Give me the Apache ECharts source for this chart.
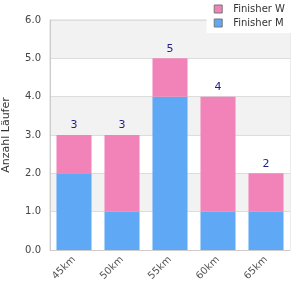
<!DOCTYPE html>
<html><head><meta charset="utf-8">
<script src="https://cdn.jsdelivr.net/npm/echarts@6/dist/echarts.min.js"></script>
<style>html,body{margin:0;padding:0;background:#fff}#c{width:300px;height:300px}</style>
</head><body><div id="c"></div>
<script>
var categories = ['45km', '50km', '55km', '60km', '65km'];
var finisherM = [2, 1, 4, 1, 1];
var finisherW = [1, 2, 1, 3, 1];
var yTicks = [0, 1, 2, 3, 4, 5, 6];
var totals = categories.map(function (_, i) { return finisherM[i] + finisherW[i]; });

var chart = echarts.init(document.getElementById('c'), null, {renderer: 'canvas'});
chart.setOption({
  animation: false,
  backgroundColor: '#fff',
  textStyle: {fontFamily: 'DejaVu Sans'},
  grid: {left: 50, right: 10, top: 20, bottom: 50, containLabel: false, outerBoundsMode: 'none',
    show: true, borderColor: '#d6d6d6', borderWidth: 1, backgroundColor: 'transparent'},
  legend: {
    data: ['Finisher W', 'Finisher M'],
    orient: 'vertical', right: 0, top: 0,
    backgroundColor: '#fff', padding: [4, 15, 5, 7],
    itemWidth: 8, itemHeight: 8, itemGap: 4,
    icon: 'rect',
    itemStyle: {borderColor: '#777', borderWidth: 1},
    textStyle: {fontFamily: 'DejaVu Sans', fontSize: 10, color: '#333', padding: [0, 0, 0, 6]}
  },
  xAxis: {
    type: 'category', data: categories,
    axisLine: {lineStyle: {color: '#cccccc'}},
    axisTick: {show: false},
    axisLabel: {rotate: 45, align: 'right', verticalAlign: 'middle', hideOverlap: false, fontSize: 10, color: '#555', margin: 8}
  },
  yAxis: {
    type: 'value', min: yTicks[0], max: yTicks[yTicks.length - 1], interval: 1,
    name: 'Anzahl Läufer', nameLocation: 'middle', nameGap: 38,
    nameTextStyle: {fontFamily: 'DejaVu Sans', fontSize: 11, color: '#333'},
    axisLine: {show: true, lineStyle: {color: '#cccccc'}},
    axisTick: {show: false},
    axisLabel: {formatter: function (v) { return v.toFixed(1); }, fontFamily: 'DejaVu Sans', fontSize: 10, color: '#444', margin: 9},
    splitLine: {lineStyle: {color: '#dddddd'}},
    splitArea: {show: true, areaStyle: {color: ['#ffffff', '#f2f2f2']}}
  },
  series: [
    {name: 'Finisher M', type: 'bar', stack: 'a', data: finisherM, barWidth: '73%',
      itemStyle: {color: '#5fa8f5'}},
    {name: 'Finisher W', type: 'bar', stack: 'a', data: finisherW, barWidth: '73%',
      itemStyle: {color: '#f283b8'},
      label: {show: true, position: 'top', distance: 4, color: '#1e1e8c', fontFamily: 'DejaVu Sans', fontSize: 11,
        formatter: function (p) { return totals[p.dataIndex]; }}}
  ]
});
</script></body></html>
